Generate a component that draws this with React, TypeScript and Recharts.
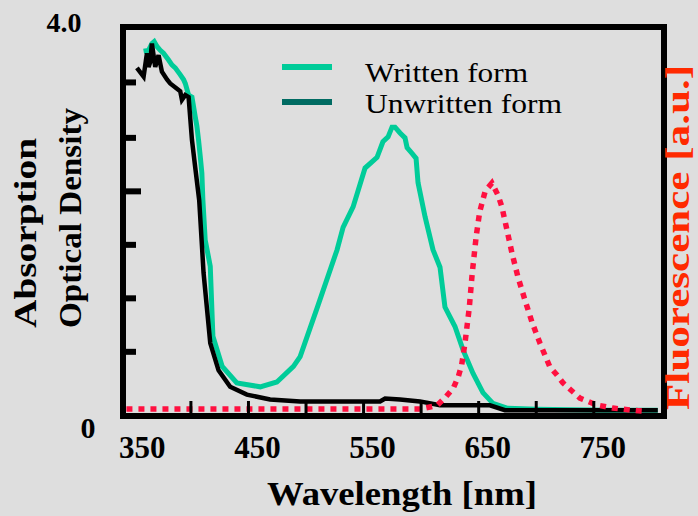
import { ComposedChart, Line, XAxis, YAxis, ReferenceArea, Legend } from "recharts";

// Written form (green) absorption spectrum
const writtenNm = [358.9, 363.2, 366.1, 368.1, 370.5, 373.4, 376.2, 380.6, 383.5, 386.4, 390.7, 393.6, 395.1, 398.0, 400.9, 402.3, 403.7, 405.2, 406.6, 408.1, 409.5, 410.4, 412.4, 416.8, 419.1, 427.2, 439.9, 460.2, 474.7, 489.1, 494.9, 510.5, 527.0, 532.2, 540.9, 551.3, 561.7, 566.8, 571.3, 574.7, 577.3, 581.7, 586.0, 587.8, 592.1, 595.6, 597.3, 603.4, 610.3, 616.4, 620.7, 629.4, 636.4, 645.0, 653.7, 662.4, 674.6, 700, 760, 805.6];
const writtenOd = [3.75, 3.76, 3.83, 3.85, 3.8, 3.76, 3.73, 3.66, 3.61, 3.58, 3.51, 3.46, 3.42, 3.3, 3.28, 3.18, 3.08, 2.98, 2.84, 2.67, 2.5, 2.22, 1.81, 1.54, 0.82, 0.51, 0.34, 0.3, 0.35, 0.51, 0.61, 1.14, 1.71, 1.94, 2.15, 2.55, 2.66, 2.82, 2.87, 2.97, 2.97, 2.91, 2.86, 2.76, 2.7, 2.65, 2.4, 2.05, 1.71, 1.53, 1.12, 0.92, 0.68, 0.44, 0.24, 0.13, 0.08, 0.07, 0.06, 0.06];

// Unwritten form (black) absorption spectrum
const unwrittenNm = [353.1, 358.9, 361.8, 363.2, 364.7, 366.1, 369.0, 371.9, 374.8, 379.2, 382.0, 390.7, 392.2, 395.1, 398.0, 400.9, 403.7, 407.2, 411.0, 416.8, 424.0, 434.1, 448.6, 468.8, 494.9, 564.3, 568.7, 581.7, 599.0, 616.4, 659.8, 672.8, 805.6];
const unwrittenOd = [3.58, 3.49, 3.73, 3.59, 3.64, 3.83, 3.59, 3.71, 3.54, 3.46, 3.42, 3.34, 3.25, 3.3, 3.28, 2.84, 2.56, 2.22, 1.47, 0.75, 0.47, 0.3, 0.22, 0.17, 0.15, 0.15, 0.18, 0.17, 0.15, 0.11, 0.11, 0.06, 0.06];

// Fluorescence (red dotted), arbitrary units
const fluorNm = [344, 599.0, 613.8, 620.7, 627.9, 632.3, 635.2, 638.1, 641.8, 644.4, 647.8, 650.9, 655.7, 661.5, 666.8, 670.2, 674.6, 678.9, 684.1, 690.2, 696.3, 703.2, 711.9, 718.0, 723.2, 737.9, 752.7, 766.6, 781.3, 791.7];
const fluorAu = [0.03, 0.03, 0.045, 0.078, 0.119, 0.169, 0.219, 0.313, 0.463, 0.613, 0.77, 0.877, 0.966, 1.0, 0.948, 0.897, 0.798, 0.7, 0.597, 0.498, 0.403, 0.313, 0.21, 0.176, 0.142, 0.077, 0.047, 0.034, 0.026, 0.021];

const xDomain = [341, 811];
const xLabelTicks = [350, 450, 550, 650, 750];
const xMarkTicks = [400, 450, 500, 550, 600, 650, 700, 750];
const yDomain = [0, 4];
const yLabelTicks = [0, 4];
const yMarkTicks = [0.66, 1.21, 1.76, 2.31, 2.86, 3.43];
const fluorDomain = [0, 1.67];

const legendItems = [
  { label: "Written form", color: "#00CC99", width: 163 },
  { label: "Unwritten form", color: "#006B62", width: 197 },
];

const written = writtenNm.map((nm, i) => ({ nm, od: writtenOd[i] }));
const unwritten = unwrittenNm.map((nm, i) => ({ nm, od: unwrittenOd[i] }));
const fluor = fluorNm.map((nm, i) => ({ nm, fl: fluorAu[i] }));

const xTicks = Array.from(new Set([...xLabelTicks, ...xMarkTicks])).sort((a, b) => a - b);
const yTicks = [...yLabelTicks, ...yMarkTicks].sort((a, b) => a - b);

const SERIF = "'Liberation Serif', 'Times New Roman', serif";

function XTick(props: any) {
  const { x, y, payload } = props;
  const v = payload.value;
  return (
    <g>
      {xMarkTicks.includes(v) && <line x1={x} x2={x} y1={y} y2={y - 15} stroke="#000" strokeWidth={3} />}
      {xLabelTicks.includes(v) && (
        <text x={x + 9} y={y + 42} textAnchor="middle" fontFamily={SERIF} fontWeight="bold" fontSize={31} fill="#000">
          {v}
        </text>
      )}
    </g>
  );
}

function YTick(props: any) {
  const { x, y, payload } = props;
  const v = payload.value;
  if (v === 4) {
    return (
      <text x={64} y={y + 5} textAnchor="middle" fontFamily={SERIF} fontWeight="bold" fontSize={28} fill="#000">
        4.0
      </text>
    );
  }
  if (v === 0) {
    return (
      <text x={88} y={y + 22} textAnchor="middle" fontFamily={SERIF} fontWeight="bold" fontSize={30} fill="#000">
        0
      </text>
    );
  }
  const len = v === 2.31 ? 18 : 13;
  return <rect x={x} y={y - 3} width={len} height={6} fill="#000" />;
}

const leftTitle = () => (
  <g fontFamily={SERIF} fontWeight="bold" fontSize={32} fill="#000">
    <text transform="translate(36,328) rotate(-90)" textLength={190} lengthAdjust="spacingAndGlyphs">
      Absorption
    </text>
    <text transform="translate(81,328) rotate(-90)" textLength={220} lengthAdjust="spacingAndGlyphs">
      Optical Density
    </text>
  </g>
);

const rightTitle = () => (
  <text
    transform="translate(689,410) rotate(-90)"
    fontFamily={SERIF}
    fontWeight="bold"
    fontSize={34}
    fill="#FF2A00"
    textLength={345}
    lengthAdjust="spacingAndGlyphs"
  >
    Fluorescence [a.u.]
  </text>
);

const bottomTitle = () => (
  <text x={267} y={505} fontFamily={SERIF} fontWeight="bold" fontSize={33} fill="#000" textLength={270} lengthAdjust="spacingAndGlyphs">
    Wavelength [nm]
  </text>
);

const renderLegend = () => (
  <svg width={320} height={72}>
    {legendItems.map((it, i) => (
      <g key={it.label}>
        <line x1={12} x2={62} y1={17 + i * 35} y2={17 + i * 35} stroke={it.color} strokeWidth={6} />
        <text
          x={95}
          y={32 + i * 31}
          fontFamily={SERIF}
          fontSize={28}
          fill="#000"
          textLength={it.width}
          lengthAdjust="spacingAndGlyphs"
        >
          {it.label}
        </text>
      </g>
    ))}
  </svg>
);

export default function App() {
  return (
    <div style={{ position: "absolute", left: 0, top: 0, width: 698, height: 516, background: "#dedede" }}>
      <ComposedChart width={698} height={516} margin={{ top: 27, right: 0, bottom: 0, left: 0 }}>
        <XAxis
          type="number"
          dataKey="nm"
          domain={xDomain}
          allowDataOverflow
          ticks={xTicks}
          interval={0}
          height={100}
          axisLine={false}
          tickLine={false}
          tickSize={0}
          tickMargin={0}
          tick={XTick}
          label={{ content: bottomTitle }}
        />
        <YAxis
          yAxisId="od"
          type="number"
          domain={yDomain}
          allowDataOverflow
          ticks={yTicks}
          interval={0}
          width={123}
          axisLine={false}
          tickLine={false}
          tickSize={0}
          tickMargin={0}
          tick={YTick}
          label={{ content: leftTitle }}
        />
        <YAxis
          yAxisId="fl"
          orientation="right"
          type="number"
          domain={fluorDomain}
          allowDataOverflow
          width={34}
          axisLine={false}
          tickLine={false}
          tick={false}
          label={{ content: rightTitle }}
        />
        <ReferenceArea
          yAxisId="od"
          x1={xDomain[0]}
          x2={xDomain[1]}
          y1={yDomain[0]}
          y2={yDomain[1]}
          fill="none"
          fillOpacity={0}
          stroke="#000"
          strokeWidth={6}
          ifOverflow="visible"
        />
        <Legend
          layout="vertical"
          align="center"
          verticalAlign="middle"
          content={renderLegend}
          wrapperStyle={{ left: 270, top: 50, width: 320, height: 72 }}
        />
        <Line
          yAxisId="od"
          data={written}
          dataKey="od"
          name="Written form"
          type="linear"
          stroke="#00CC99"
          strokeWidth={5}
          dot={false}
          isAnimationActive={false}
        />
        <Line
          yAxisId="od"
          data={unwritten}
          dataKey="od"
          name="Unwritten form"
          type="linear"
          stroke="#000"
          strokeWidth={4.5}
          dot={false}
          isAnimationActive={false}
        />
        <Line
          yAxisId="fl"
          data={fluor}
          dataKey="fl"
          name="Fluorescence"
          type="linear"
          stroke="#FF1040"
          strokeWidth={5.5}
          strokeDasharray="6 6"
          dot={false}
          isAnimationActive={false}
        />
      </ComposedChart>
    </div>
  );
}
